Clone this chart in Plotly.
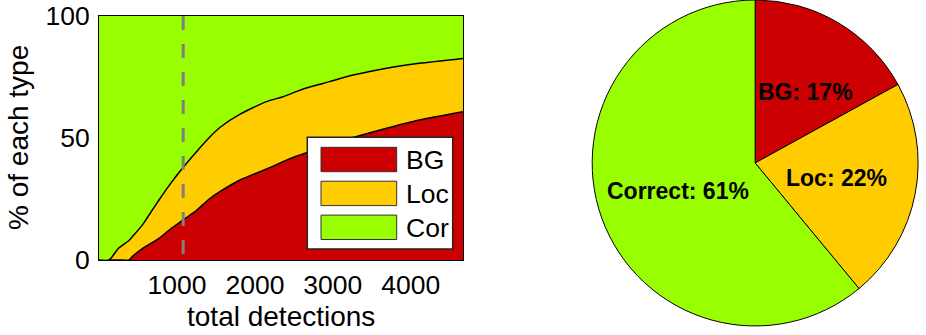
import plotly.graph_objects as go

# ---- detection-type breakdown vs. number of detections ----
detections = [0, 130, 250, 385, 430, 560, 600, 770, 920, 1070, 1240, 1410,
              1550, 1810, 2150, 2360, 2530, 2660, 2960, 3260, 3690, 4110, 4670]
bg_pct = [0, 0, 0, 0, 1.5, 4.8, 5.6, 8.9, 12.8, 16.2, 20.0, 24.9,
          28.0, 32.8, 37.3, 40.3, 42.5, 44.0, 47.3, 50.2, 54.0, 57.4, 60.8]
loc_pct = [0, 0, 4.8, 8.0, 8.1, 9.7, 10.8, 15.7, 18.6, 21.4, 24.0, 25.1,
           26.3, 27.0, 27.6, 26.6, 26.5, 26.5, 25.8, 25.6, 24.6, 23.2, 21.8]
cor_pct = [100, 100, 95.2, 92.0, 90.4, 85.5, 83.6, 75.4, 68.6, 62.4, 56.0, 50.0,
           45.7, 40.2, 35.1, 33.1, 31.0, 29.5, 26.9, 24.2, 21.4, 19.4, 17.4]
cutoff = 1080

legend_labels = ["BG", "Loc", "Cor"]
x_ticks = [1000, 2000, 3000, 4000]
y_ticks = [0, 50, 100]

# ---- overall share of each type ----
pie_labels = ["BG", "Loc", "Correct"]
pie_values = [17, 22, 61]

RED, YELLOW, GREEN = "#CC0000", "#FFCC00", "#99FF00"
colors = [RED, YELLOW, GREEN]
FONT = "Liberation Sans, Arial, sans-serif"
W, H = 926, 335


def px(x, y):
    """pixel position -> paper coordinates"""
    return x / W, 1 - y / H


def label(x, y, text, size, bold=False, angle=0, xanchor="center"):
    ax_, ay_ = px(x, y)
    fig.add_annotation(x=ax_, y=ay_, xref="paper", yref="paper", showarrow=False,
                       xanchor=xanchor, yanchor="middle", textangle=angle,
                       text=f"<b>{text}</b>" if bold else text,
                       font=dict(family=FONT, size=size, color="black"))


fig = go.Figure()

for name, vals, col, lw in zip(legend_labels, [bg_pct, loc_pct, cor_pct], colors,
                               [1.5, 1.5, 0]):
    fig.add_trace(go.Scatter(
        x=detections, y=vals, name=name, stackgroup="one", mode="lines",
        line=dict(color="black", width=lw, shape="spline", smoothing=0.6),
        fillcolor=col, xaxis="x", yaxis="y", showlegend=False,
    ))

fig.add_shape(type="line", xref="x", yref="y", x0=cutoff, x1=cutoff, y0=100, y1=0,
              line=dict(color="#808080", width=3, dash="14px,14px"), layer="above")

fig.add_trace(go.Pie(
    labels=pie_labels, values=pie_values, sort=False, direction="clockwise",
    rotation=0, marker=dict(colors=colors, line=dict(color="black", width=1)),
    textinfo="none", hoverinfo="label+percent", showlegend=False,
    domain=dict(x=[0.6395, 0.9915], y=[0.027, 1.0]),
))

# slice labels
pie_text_pos = [(805, 92), (836, 178), (678, 191)]
for lab, val, (tx, ty) in zip(pie_labels, pie_values, pie_text_pos):
    label(tx, ty, f"{lab}: {val}%", 23, bold=True)

# legend box for the area chart
x0, y0 = px(307.3, 137.3)
x1, y1 = px(452.7, 249)
fig.add_shape(type="rect", xref="paper", yref="paper", x0=x0, y0=y0, x1=x1, y1=y1,
              fillcolor="white", line=dict(color="#222222", width=1.5), layer="above")
for i, (lab, col) in enumerate(zip(legend_labels, colors)):
    top = 147.3 + i * 33.9
    rx0, ry0 = px(321, top)
    rx1, ry1 = px(396.7, top + 24.4)
    fig.add_shape(type="rect", xref="paper", yref="paper", x0=rx0, y0=ry0, x1=rx1, y1=ry1,
                  fillcolor=col, line=dict(color="#333333", width=1), layer="above")
    label(404, top + 12.5, lab, 26.5, xanchor="left")

# axis titles
label(281, 316, "total detections", 28)
label(18, 138, "% of each type", 28, angle=-90)

fig.update_layout(
    width=W, height=H, margin=dict(l=0, r=0, t=0, b=0, autoexpand=False),
    paper_bgcolor="white", plot_bgcolor=GREEN,
    font=dict(family=FONT, color="black"),
    xaxis=dict(domain=[99 / W, 463 / W], range=[0, 4670], tickvals=x_ticks,
               ticks="", showgrid=False, zeroline=False, showline=True,
               linecolor="black", linewidth=1, mirror=True, automargin=False,
               tickfont=dict(family=FONT, size=26.5, color="black"),
               ticklabelstandoff=1),
    yaxis=dict(domain=[1 - 260 / H, 1 - 16 / H], range=[0, 100], tickvals=y_ticks,
               ticks="", showgrid=False, zeroline=False, showline=True,
               linecolor="black", linewidth=1, mirror=True, automargin=False,
               tickfont=dict(family=FONT, size=26.5, color="black"),
               ticklabelstandoff=3),
)

fig.write_html("out.html")
